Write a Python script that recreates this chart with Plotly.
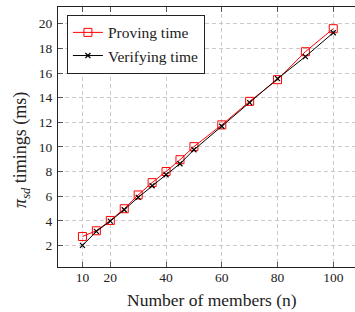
import plotly.graph_objects as go

members = [10, 15, 20, 25, 30, 35, 40, 45, 50, 60, 70, 80, 90, 100]
proving = [2.73, 3.19, 4.03, 4.98, 6.10, 7.10, 8.00, 8.96, 10.02, 11.79, 13.70, 15.46, 17.73, 19.60]
verifying = [2.00, 3.14, 3.98, 4.90, 5.90, 6.85, 7.74, 8.63, 9.77, 11.68, 13.59, 15.54, 17.33, 19.27]

x_ticks = [10, 20, 40, 60, 80, 100]
y_ticks = [2, 4, 6, 8, 10, 12, 14, 16, 18, 20]

FONT = "'Liberation Serif', 'Times New Roman', 'DejaVu Serif', serif"

fig = go.Figure()
fig.add_trace(go.Scatter(
    x=members, y=proving, name="Proving time", mode="lines+markers",
    line=dict(color="#ff0000", width=1),
    marker=dict(symbol="square-open", size=8, color="#ff0000", line=dict(width=1, color="#ff0000")),
))
fig.add_trace(go.Scatter(
    x=members, y=verifying, name="Verifying time", mode="lines+markers",
    line=dict(color="#000000", width=1),
    marker=dict(symbol="x-thin", size=5, color="#000000", line=dict(width=1.2, color="#000000")),
))

axis_common = dict(
    showline=True, linecolor="#222222", linewidth=1,
    ticks="inside", ticklen=5, tickwidth=0.8, tickcolor="#333333",
    showgrid=True, gridcolor="#bdbdbd", gridwidth=0.8, griddash="4px,3px",
    zeroline=False,
    tickfont=dict(family=FONT, size=13.5, color="#222222"),
)

fig.update_xaxes(
    range=[1.23, 107.8], tickmode="array", tickvals=x_ticks,
    ticktext=[str(v) for v in x_ticks], mirror="ticks", ticklabelstandoff=-2, **axis_common,
)
fig.update_yaxes(
    range=[0.25, 21.36], tickmode="array", tickvals=y_ticks,
    ticktext=[str(v) for v in y_ticks], mirror=False, ticklabelstandoff=2, **axis_common,
)

fig.add_annotation(
    text="Number of members (n)", xref="paper", yref="paper",
    x=0.52, y=-0.126, xanchor="center", yanchor="middle", showarrow=False,
    font=dict(family=FONT, size=17.5, color="#222222"),
)
fig.add_annotation(
    text="<i>π<sub>sd</sub></i> timings (ms)", xref="paper", yref="paper",
    x=-0.125, y=0.45, xanchor="center", yanchor="middle", showarrow=False, textangle=-90,
    font=dict(family=FONT, size=18, color="#222222"),
)

fig.update_layout(
    width=355, height=312,
    margin=dict(l=58, r=0, t=7, b=45),
    paper_bgcolor="white", plot_bgcolor="white",
    font=dict(family=FONT),
    showlegend=True,
    hovermode=False,
    legend=dict(
        x=0.03, y=0.97, xanchor="left", yanchor="top",
        bgcolor="white", bordercolor="#222222", borderwidth=1,
        font=dict(family=FONT, size=15.5, color="#222222"),
        tracegroupgap=0,
    ),
)

fig.write_html(
    "out.html",
    config={"displayModeBar": False, "staticPlot": True},
    post_script="document.body.style.margin='0';document.body.style.overflow='hidden';",
)
